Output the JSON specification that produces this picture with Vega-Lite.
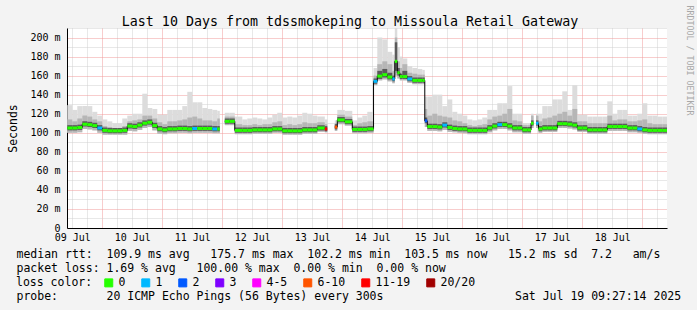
{
  "$schema": "https://vega.github.io/schema/vega-lite/v6.json",
  "width": 600,
  "height": 200,
  "autosize": {"type": "none"},
  "padding": {"left": 67, "top": 28, "right": 30, "bottom": 82},
  "background": "#f3f3f3",
  "config": {"view": {"fill": "#ffffff", "stroke": null}, "font": "DejaVu Sans Mono"},
  "title": {"text": "Last 10 Days from tdssmokeping to Missoula Retail Gateway", "font": "DejaVu Sans Mono", "fontSize": 13.3, "fontWeight": "normal", "color": "#000000", "anchor": "middle", "frame": "bounds", "dy": 27},
  "data": {
    "format": {"parse": {"t": "date"}},
    "values": [
      {"t":"2025-07-09T10:00","mn":100,"lo":102.5,"md":105,"up":108,"hi":114,"mx":129,"loss":"0"},
      {"t":"2025-07-09T12:00","mn":100,"lo":102.5,"md":105,"up":108,"hi":112,"mx":124,"loss":"0"},
      {"t":"2025-07-09T14:00","mn":100.5,"lo":103,"md":105.5,"up":108.5,"hi":115,"mx":128,"loss":"0"},
      {"t":"2025-07-09T16:00","mn":104,"lo":106.5,"md":109,"up":112,"hi":118,"mx":128,"loss":"0"},
      {"t":"2025-07-09T18:00","mn":103.5,"lo":106,"md":108.5,"up":111.5,"hi":117,"mx":128,"loss":"0"},
      {"t":"2025-07-09T20:00","mn":102.5,"lo":105,"md":107.5,"up":110.5,"hi":114,"mx":122,"loss":"0"},
      {"t":"2025-07-09T22:00","mn":100,"lo":102.5,"md":105,"up":108,"hi":112,"mx":118,"loss":"1"},
      {"t":"2025-07-10T00:00","mn":98,"lo":100,"md":102.5,"up":105.5,"hi":107,"mx":114,"loss":"0"},
      {"t":"2025-07-10T02:00","mn":98,"lo":99.5,"md":102,"up":105,"hi":106,"mx":112,"loss":"0"},
      {"t":"2025-07-10T04:00","mn":98,"lo":99.5,"md":102,"up":105,"hi":105,"mx":110,"loss":"0"},
      {"t":"2025-07-10T06:00","mn":98,"lo":99.5,"md":102,"up":105,"hi":105,"mx":110,"loss":"0"},
      {"t":"2025-07-10T08:00","mn":98,"lo":100,"md":102.5,"up":105.5,"hi":107,"mx":115,"loss":"0"},
      {"t":"2025-07-10T10:00","mn":102,"lo":104.5,"md":107,"up":110,"hi":112,"mx":118,"loss":"0"},
      {"t":"2025-07-10T12:00","mn":101.5,"lo":104,"md":106.5,"up":109.5,"hi":113,"mx":120,"loss":"0"},
      {"t":"2025-07-10T14:00","mn":103,"lo":105.5,"md":108,"up":111,"hi":114,"mx":120,"loss":"0"},
      {"t":"2025-07-10T16:00","mn":105,"lo":107.5,"md":110,"up":113,"hi":118,"mx":141,"loss":"0"},
      {"t":"2025-07-10T18:00","mn":106,"lo":108.5,"md":111,"up":114,"hi":118,"mx":126,"loss":"0"},
      {"t":"2025-07-10T20:00","mn":102.5,"lo":105,"md":107.5,"up":110.5,"hi":115,"mx":125,"loss":"0"},
      {"t":"2025-07-10T22:00","mn":99,"lo":101.5,"md":104,"up":107,"hi":111,"mx":119,"loss":"0"},
      {"t":"2025-07-11T00:00","mn":98.5,"lo":100.5,"md":103,"up":106,"hi":109,"mx":119,"loss":"0"},
      {"t":"2025-07-11T02:00","mn":99.5,"lo":101.5,"md":104,"up":107,"hi":112,"mx":124,"loss":"0"},
      {"t":"2025-07-11T04:00","mn":99.5,"lo":101.5,"md":104,"up":107,"hi":112,"mx":124,"loss":"0"},
      {"t":"2025-07-11T06:00","mn":100,"lo":102,"md":104.5,"up":107.5,"hi":113,"mx":124,"loss":"0"},
      {"t":"2025-07-11T08:00","mn":100,"lo":102,"md":104.5,"up":107.5,"hi":114,"mx":128,"loss":"0"},
      {"t":"2025-07-11T10:00","mn":99.5,"lo":101.5,"md":104,"up":107,"hi":116,"mx":143,"loss":"0"},
      {"t":"2025-07-11T12:00","mn":100,"lo":102,"md":104.5,"up":107.5,"hi":117,"mx":132,"loss":"1"},
      {"t":"2025-07-11T14:00","mn":100,"lo":102,"md":104.5,"up":107.5,"hi":115,"mx":132,"loss":"0"},
      {"t":"2025-07-11T16:00","mn":100,"lo":102,"md":104.5,"up":107.5,"hi":113,"mx":126,"loss":"0"},
      {"t":"2025-07-11T18:00","mn":100,"lo":102,"md":104.5,"up":107.5,"hi":113,"mx":125,"loss":"0"},
      {"t":"2025-07-11T20:00","mn":99.5,"lo":101.5,"md":104,"up":107,"hi":112,"mx":124,"loss":"1"},
      {"t":"2025-07-11T22:00","mn":99.5,"lo":101.5,"md":104,"up":107,"hi":115,"mx":123,"loss":"0"},
      {"t":"2025-07-11T23:00"},
      {"t":"2025-07-12T01:00","mn":108,"lo":109.5,"md":112,"up":115,"hi":117,"mx":121,"loss":"0"},
      {"t":"2025-07-12T03:00","mn":108,"lo":109.5,"md":112,"up":115,"hi":117,"mx":121,"loss":"0"},
      {"t":"2025-07-12T05:00","mn":98.5,"lo":100,"md":102.5,"up":105.5,"hi":109,"mx":117,"loss":"0"},
      {"t":"2025-07-12T08:00","mn":98.5,"lo":100,"md":102.5,"up":105.5,"hi":108,"mx":114,"loss":"0"},
      {"t":"2025-07-12T10:00","mn":98.5,"lo":100,"md":102.5,"up":105.5,"hi":108,"mx":115,"loss":"0"},
      {"t":"2025-07-12T12:00","mn":99,"lo":100.5,"md":103,"up":106,"hi":109,"mx":116,"loss":"0"},
      {"t":"2025-07-12T14:00","mn":99,"lo":100.5,"md":103,"up":106,"hi":108,"mx":115,"loss":"0"},
      {"t":"2025-07-12T16:00","mn":99,"lo":100.5,"md":103,"up":106,"hi":109,"mx":114,"loss":"0"},
      {"t":"2025-07-12T18:00","mn":99,"lo":100.5,"md":103,"up":106,"hi":109,"mx":116,"loss":"0"},
      {"t":"2025-07-12T20:00","mn":100,"lo":101.5,"md":104,"up":107,"hi":111,"mx":119,"loss":"0"},
      {"t":"2025-07-12T22:00","mn":100,"lo":101.5,"md":104,"up":107,"hi":112,"mx":121,"loss":"0"},
      {"t":"2025-07-13T00:00","mn":98,"lo":99.5,"md":102,"up":105,"hi":108,"mx":116,"loss":"0"},
      {"t":"2025-07-13T02:00","mn":98,"lo":99.5,"md":102,"up":105,"hi":109,"mx":117,"loss":"0"},
      {"t":"2025-07-13T04:00","mn":98,"lo":99.5,"md":102,"up":105,"hi":108,"mx":116,"loss":"0"},
      {"t":"2025-07-13T06:00","mn":98,"lo":99.5,"md":102,"up":105,"hi":109,"mx":118,"loss":"0"},
      {"t":"2025-07-13T08:00","mn":99,"lo":100.5,"md":103,"up":106,"hi":111,"mx":121,"loss":"0"},
      {"t":"2025-07-13T10:00","mn":99,"lo":100.5,"md":103,"up":106,"hi":110,"mx":120,"loss":"0"},
      {"t":"2025-07-13T12:00","mn":99,"lo":100.5,"md":103,"up":106,"hi":110,"mx":118,"loss":"0"},
      {"t":"2025-07-13T14:00","mn":101,"lo":102.5,"md":105,"up":108,"hi":111,"mx":117,"loss":"0"},
      {"t":"2025-07-13T17:00","mn":100.5,"lo":101.5,"md":104,"up":107,"hi":109,"mx":114,"loss":"11-19"},
      {"t":"2025-07-13T18:00"},
      {"t":"2025-07-13T21:00","mn":102,"lo":103.5,"md":106,"up":109,"hi":110,"mx":113,"loss":"6-10"},
      {"t":"2025-07-13T22:00","mn":109,"lo":111,"md":113.5,"up":116.5,"hi":119,"mx":124,"loss":"0"},
      {"t":"2025-07-14T01:00","mn":107.5,"lo":109,"md":111.5,"up":114.5,"hi":117,"mx":123,"loss":"0"},
      {"t":"2025-07-14T04:00","mn":99.5,"lo":101,"md":103.5,"up":106.5,"hi":108,"mx":113,"loss":"0"},
      {"t":"2025-07-14T06:00","mn":99.5,"lo":101,"md":103.5,"up":106.5,"hi":110,"mx":116,"loss":"0"},
      {"t":"2025-07-14T08:00","mn":99.5,"lo":101,"md":103.5,"up":106.5,"hi":111,"mx":118,"loss":"0"},
      {"t":"2025-07-14T10:00","mn":100,"lo":101.5,"md":104,"up":107,"hi":112,"mx":122,"loss":"0"},
      {"t":"2025-07-14T12:30","mn":150,"lo":151.5,"md":154,"up":157,"hi":160,"mx":168,"loss":"1"},
      {"t":"2025-07-14T14:00","mn":155,"lo":156.5,"md":159.5,"up":165,"hi":172,"mx":200,"loss":"0"},
      {"t":"2025-07-14T16:00","mn":156,"lo":158,"md":161,"up":167,"hi":175,"mx":198,"loss":"0"},
      {"t":"2025-07-14T18:00","mn":154,"lo":156,"md":158.5,"up":163,"hi":172,"mx":185,"loss":"0"},
      {"t":"2025-07-14T20:00","mn":152,"lo":154,"md":156.5,"up":160,"hi":165,"mx":182,"loss":"1"},
      {"t":"2025-07-14T21:00","mn":160,"lo":165,"md":175,"up":195,"hi":200,"mx":210,"loss":"0"},
      {"t":"2025-07-14T22:00","mn":157,"lo":160,"md":163,"up":168,"hi":175,"mx":190,"loss":"0"},
      {"t":"2025-07-14T23:00","mn":155,"lo":156.5,"md":159,"up":162,"hi":168,"mx":180,"loss":"0"},
      {"t":"2025-07-15T00:00","mn":155,"lo":156.5,"md":159,"up":165,"hi":172,"mx":178,"loss":"0"},
      {"t":"2025-07-15T02:00","mn":152.5,"lo":154,"md":156.5,"up":159.5,"hi":163,"mx":170,"loss":"1"},
      {"t":"2025-07-15T04:00","mn":151,"lo":152.5,"md":155,"up":158,"hi":162,"mx":168,"loss":"0"},
      {"t":"2025-07-15T06:00","mn":151,"lo":152.5,"md":155,"up":158,"hi":161,"mx":167,"loss":"0"},
      {"t":"2025-07-15T08:00","mn":151,"lo":152.5,"md":155,"up":158,"hi":161,"mx":166,"loss":"0"},
      {"t":"2025-07-15T09:00","mn":106,"lo":110,"md":112.5,"up":116,"hi":125,"mx":138,"loss":"2"},
      {"t":"2025-07-15T10:00","mn":102,"lo":104,"md":106.5,"up":109.5,"hi":118,"mx":138,"loss":"0"},
      {"t":"2025-07-15T12:00","mn":102,"lo":104,"md":106.5,"up":109.5,"hi":120,"mx":140,"loss":"0"},
      {"t":"2025-07-15T14:00","mn":101.5,"lo":103.5,"md":106,"up":109,"hi":118,"mx":140,"loss":"0"},
      {"t":"2025-07-15T16:00","mn":103,"lo":105.5,"md":108,"up":111,"hi":117,"mx":128,"loss":"1"},
      {"t":"2025-07-15T18:00","mn":101,"lo":103,"md":105.5,"up":108.5,"hi":116,"mx":135,"loss":"0"},
      {"t":"2025-07-15T20:00","mn":100.5,"lo":102,"md":104.5,"up":107.5,"hi":113,"mx":122,"loss":"0"},
      {"t":"2025-07-15T22:00","mn":100,"lo":101.5,"md":104,"up":107,"hi":112,"mx":120,"loss":"0"},
      {"t":"2025-07-16T00:00","mn":99.5,"lo":101.5,"md":104,"up":107,"hi":110,"mx":118,"loss":"0"},
      {"t":"2025-07-16T02:00","mn":98.5,"lo":100,"md":102.5,"up":105.5,"hi":108,"mx":114,"loss":"0"},
      {"t":"2025-07-16T04:00","mn":98.5,"lo":100,"md":102.5,"up":105.5,"hi":107,"mx":113,"loss":"0"},
      {"t":"2025-07-16T06:00","mn":98.5,"lo":100,"md":102.5,"up":105.5,"hi":108,"mx":114,"loss":"0"},
      {"t":"2025-07-16T08:00","mn":98.5,"lo":100,"md":102.5,"up":105.5,"hi":109,"mx":116,"loss":"0"},
      {"t":"2025-07-16T10:00","mn":100.5,"lo":102.5,"md":105,"up":108,"hi":114,"mx":124,"loss":"0"},
      {"t":"2025-07-16T12:00","mn":102.5,"lo":104.5,"md":107,"up":110,"hi":117,"mx":124,"loss":"0"},
      {"t":"2025-07-16T14:00","mn":104,"lo":106,"md":108.5,"up":111.5,"hi":118,"mx":131,"loss":"1"},
      {"t":"2025-07-16T16:00","mn":104,"lo":106,"md":108.5,"up":111.5,"hi":120,"mx":131,"loss":"0"},
      {"t":"2025-07-16T18:00","mn":102.5,"lo":104.5,"md":107,"up":110,"hi":125,"mx":149,"loss":"0"},
      {"t":"2025-07-16T20:00","mn":100.5,"lo":102.5,"md":105,"up":108,"hi":113,"mx":120,"loss":"0"},
      {"t":"2025-07-16T22:00","mn":100.5,"lo":102.5,"md":105,"up":108,"hi":112,"mx":120,"loss":"0"},
      {"t":"2025-07-17T00:00","mn":99,"lo":100.5,"md":103,"up":106,"hi":108,"mx":110,"loss":"0"},
      {"t":"2025-07-17T02:00","mn":99,"lo":100.5,"md":103,"up":106,"hi":108,"mx":110,"loss":"0"},
      {"t":"2025-07-17T03:30","mn":105,"lo":107.5,"md":110,"up":113,"hi":118,"mx":120,"loss":"0"},
      {"t":"2025-07-17T04:30"},
      {"t":"2025-07-17T05:30","mn":105,"lo":107.5,"md":110,"up":113,"hi":118,"mx":120,"loss":"1"},
      {"t":"2025-07-17T06:30","mn":100,"lo":101.5,"md":104,"up":107,"hi":112,"mx":120,"loss":"0"},
      {"t":"2025-07-17T08:00","mn":101,"lo":102.5,"md":105,"up":108,"hi":115,"mx":128,"loss":"0"},
      {"t":"2025-07-17T10:00","mn":101,"lo":102.5,"md":105,"up":108,"hi":116,"mx":128,"loss":"0"},
      {"t":"2025-07-17T12:00","mn":101,"lo":102.5,"md":105,"up":108,"hi":118,"mx":135,"loss":"0"},
      {"t":"2025-07-17T14:00","mn":105,"lo":107,"md":109.5,"up":112.5,"hi":120,"mx":135,"loss":"0"},
      {"t":"2025-07-17T16:00","mn":105,"lo":107,"md":109.5,"up":112.5,"hi":122,"mx":143.5,"loss":"0"},
      {"t":"2025-07-17T18:00","mn":104.5,"lo":106.5,"md":109,"up":112,"hi":118,"mx":124,"loss":"0"},
      {"t":"2025-07-17T20:00","mn":103.5,"lo":105.5,"md":108,"up":111,"hi":125,"mx":150,"loss":"0"},
      {"t":"2025-07-17T22:00","mn":101,"lo":102.5,"md":105,"up":108,"hi":112,"mx":119,"loss":"0"},
      {"t":"2025-07-18T00:00","mn":101,"lo":102.5,"md":105,"up":108,"hi":112,"mx":119,"loss":"0"},
      {"t":"2025-07-18T02:00","mn":99,"lo":100.5,"md":103,"up":106,"hi":110,"mx":117,"loss":"0"},
      {"t":"2025-07-18T04:00","mn":99,"lo":100.5,"md":103,"up":106,"hi":110,"mx":117,"loss":"0"},
      {"t":"2025-07-18T06:00","mn":99,"lo":100.5,"md":103,"up":106,"hi":110,"mx":117,"loss":"0"},
      {"t":"2025-07-18T08:00","mn":99,"lo":100.5,"md":103,"up":106,"hi":110,"mx":117,"loss":"0"},
      {"t":"2025-07-18T10:00","mn":102,"lo":104,"md":106.5,"up":109.5,"hi":118,"mx":133,"loss":"0"},
      {"t":"2025-07-18T12:00","mn":102,"lo":104,"md":106.5,"up":109.5,"hi":113,"mx":120,"loss":"0"},
      {"t":"2025-07-18T14:00","mn":102,"lo":104,"md":106.5,"up":109.5,"hi":114,"mx":124,"loss":"0"},
      {"t":"2025-07-18T16:00","mn":102,"lo":104,"md":106.5,"up":109.5,"hi":114,"mx":124,"loss":"0"},
      {"t":"2025-07-18T18:00","mn":100.5,"lo":102.5,"md":105,"up":108,"hi":112,"mx":118,"loss":"0"},
      {"t":"2025-07-18T20:00","mn":100.5,"lo":102.5,"md":105,"up":108,"hi":112,"mx":118,"loss":"0"},
      {"t":"2025-07-18T22:00","mn":100,"lo":101.5,"md":104,"up":107,"hi":113,"mx":120,"loss":"1"},
      {"t":"2025-07-19T00:00","mn":99,"lo":100.5,"md":103,"up":106,"hi":114,"mx":131,"loss":"0"},
      {"t":"2025-07-19T02:00","mn":98.5,"lo":100,"md":102.5,"up":105.5,"hi":110,"mx":118,"loss":"0"},
      {"t":"2025-07-19T04:00","mn":98.5,"lo":100,"md":102.5,"up":105.5,"hi":109,"mx":118,"loss":"0"},
      {"t":"2025-07-19T06:00","mn":98.5,"lo":100,"md":102.5,"up":105.5,"hi":109,"mx":117,"loss":"0"},
      {"t":"2025-07-19T08:00","mn":98.5,"lo":100,"md":102.5,"up":105.5,"hi":109,"mx":117,"loss":"0"},
      {"t":"2025-07-19T09:53"}
    ]
  },
  "transform": [
    {"window": [{"op": "lead", "field": "t", "as": "te"}], "sort": [{"field": "t", "order": "ascending"}]}
  ],
  "encoding": {
    "x": {
      "field": "t", "type": "temporal",
      "scale": {"domain": [{"year": 2025, "month": 7, "date": 9, "hours": 9, "minutes": 53}, {"year": 2025, "month": 7, "date": 19, "hours": 9, "minutes": 53}], "nice": false},
      "axis": {
        "tickCount": 40,
        "grid": true,
        "gridColor": {"condition": {"test": "hours(datum.value) === 0", "value": "#f09a9a"}, "value": "#d0d0d0"},
        "gridDash": [1, 1],
        "ticks": false,
        "domainColor": "#000000",
        "labelExpr": "hours(datum.value) === 12 ? timeFormat(datum.value, '%d %b') : ''",
        "labelOverlap": false, "labelFlush": false, "labelBound": false,
        "labelFont": "DejaVu Sans Mono", "labelFontSize": 10, "labelColor": "#000000", "labelPadding": 4,
        "title": [
          "median\u00a0rtt:\u00a0\u00a0109.9\u00a0ms\u00a0avg\u00a0\u00a0\u00a0175.7\u00a0ms\u00a0max\u00a0\u00a0102.2\u00a0ms\u00a0min\u00a0\u00a0103.5\u00a0ms\u00a0now\u00a0\u00a0\u00a015.2\u00a0ms\u00a0sd\u00a0\u00a07.2\u00a0\u00a0\u00a0am/s",
          "packet\u00a0loss:\u00a01.69\u00a0%\u00a0avg\u00a0\u00a0\u00a0100.00\u00a0%\u00a0max\u00a0\u00a00.00\u00a0%\u00a0min\u00a0\u00a00.00\u00a0%\u00a0now",
          "\u200b",
          "probe:\u00a0\u00a0\u00a0\u00a0\u00a0\u00a0\u00a020\u00a0ICMP\u00a0Echo\u00a0Pings\u00a0(56\u00a0Bytes)\u00a0every\u00a0300s\u00a0\u00a0\u00a0\u00a0\u00a0\u00a0\u00a0\u00a0\u00a0\u00a0\u00a0\u00a0\u00a0\u00a0\u00a0\u00a0\u00a0\u00a0\u00a0Sat\u00a0Jul\u00a019\u00a009:27:14\u00a02025"
        ],
        "titleFont": "DejaVu Sans Mono", "titleFontSize": 11.5, "titleFontWeight": "normal", "titleColor": "#000000",
        "titleAlign": "left", "titleAnchor": "start", "titleBaseline": "top", "titleX": -51, "titleY": 20, "titleLineHeight": 14.3
      }
    }
  },
  "resolve": {"scale": {"y": "independent"}, "axis": {"y": "independent"}},
  "layer": [
    {
      "mark": {"type": "rect", "color": "#dcdcdc", "clip": true},
      "encoding": {
        "x2": {"field": "te"},
        "y": {
          "field": "mn", "type": "quantitative",
          "scale": {"domain": [0, 210], "nice": false, "zero": true},
          "axis": {
            "orient": "left",
            "tickCount": 21,
            "grid": true,
            "gridColor": {"condition": {"test": "datum.value % 20 === 0", "value": "#f09a9a"}, "value": "#d0d0d0"},
            "gridDash": [1, 1],
            "ticks": false,
            "domainColor": "#000000",
            "labelExpr": "datum.value % 20 === 0 ? (datum.value === 0 ? '0' : datum.value + ' m') : ''",
            "labelOverlap": false,
            "labelFont": "DejaVu Sans Mono", "labelFontSize": 10, "labelColor": "#000000", "labelPadding": 7,
            "title": "Seconds",
            "titleFont": "DejaVu Sans Mono", "titleFontSize": 11.5, "titleFontWeight": "normal", "titleColor": "#000000",
            "titleAngle": 270, "titleAlign": "center", "titleBaseline": "alphabetic", "titleX": -51, "titleY": 100
          }
        },
        "y2": {"field": "mx"}
      }
    },
    {
      "mark": {"type": "rect", "color": "#b6b6b6", "clip": true},
      "encoding": {
        "x2": {"field": "te"},
        "y": {
          "field": "mn", "type": "quantitative",
          "scale": {"domain": [0, 210], "nice": false, "zero": true},
          "axis": {
            "orient": "right", "labels": false, "ticks": false, "domain": false, "grid": false,
            "title": "RRDTOOL / TOBI OETIKER",
            "titleFont": "DejaVu Sans Mono", "titleFontSize": 8.3, "titleFontWeight": "normal", "titleColor": "#a8a8a8",
            "titleAngle": 90, "titleAlign": "left", "titleBaseline": "middle", "titleX": 21, "titleY": -23
          }
        },
        "y2": {"field": "hi"}
      }
    },
    {
      "mark": {"type": "rect", "color": "#5a5a5a", "clip": true},
      "encoding": {
        "x2": {"field": "te"},
        "y": {"field": "lo", "type": "quantitative", "scale": {"domain": [0, 210], "nice": false, "zero": true},
          "axis": {"orient": "left", "labels": false, "ticks": false, "domain": false, "grid": false, "title": null}},
        "y2": {"field": "up"}
      }
    },
    {
      "mark": {"type": "line", "interpolate": "step-after", "color": "#000000", "strokeWidth": 1, "clip": true, "invalid": "break-paths-show-domains"},
      "encoding": {
        "y": {"field": "md", "type": "quantitative", "scale": {"domain": [0, 210], "nice": false, "zero": true},
          "axis": {"orient": "left", "labels": false, "ticks": false, "domain": false, "grid": false, "title": null}}
      }
    },
    {
      "mark": {"type": "rule", "strokeWidth": 3, "strokeCap": "butt", "clip": true},
      "encoding": {
        "x2": {"field": "te"},
        "y": {"field": "md", "type": "quantitative", "scale": {"domain": [0, 210], "nice": false, "zero": true},
          "axis": {"orient": "left", "labels": false, "ticks": false, "domain": false, "grid": false, "title": null}},
        "color": {
          "field": "loss", "type": "nominal",
          "scale": {"domain": ["0", "1", "2", "3", "4-5", "6-10", "11-19", "20/20"], "range": ["#26ff00", "#00b8ff", "#0059ff", "#7e00ff", "#ff00ff", "#ff5500", "#ff0000", "#a10000"]},
          "legend": {
            "orient": "none", "legendX": -51, "legendY": 249, "direction": "horizontal", "columns": 8,
            "title": "loss color:", "titleOrient": "left", "titleFont": "DejaVu Sans Mono", "titleFontSize": 11.5, "titleFontWeight": "normal", "titleColor": "#000000", "titlePadding": 10,
            "symbolType": "square", "symbolSize": 64, "symbolStrokeWidth": 1, "symbolStrokeColor": "#000000",
            "labelFont": "DejaVu Sans Mono", "labelFontSize": 11.5, "labelColor": "#000000", "labelOffset": 4, "columnPadding": 13,
            "encode": {"symbols": {"update": {"fill": {"scale": "color", "field": "value"}, "stroke": {"value": "#000000"}, "fillOpacity": {"value": 1}}}}
          }
        }
      }
    }
  ]
}
